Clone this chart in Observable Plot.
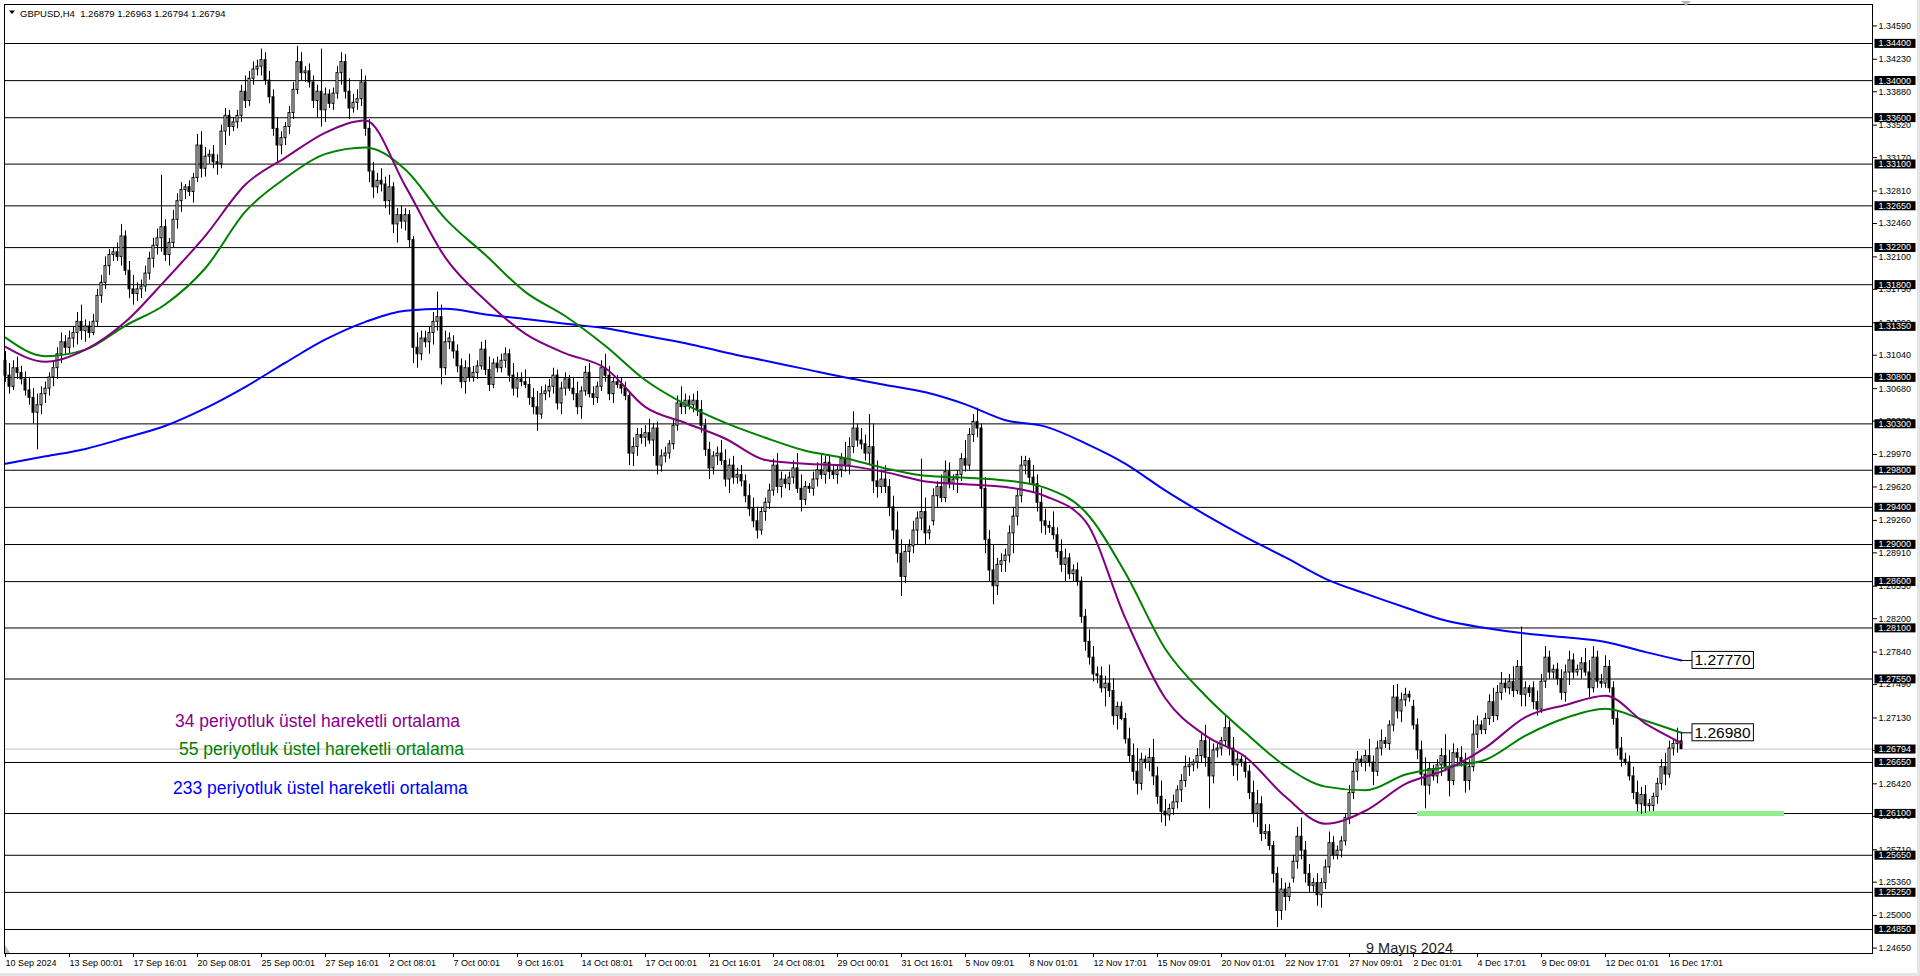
<!DOCTYPE html>
<html>
<head>
<meta charset="utf-8">
<script src="https://cdn.jsdelivr.net/npm/d3@7"></script>
<script src="https://cdn.jsdelivr.net/npm/@observablehq/plot@0.6"></script>
<style>
html,body{margin:0;padding:0;background:#fff;overflow:hidden;}
#wrap{position:relative;width:1920px;height:976px;overflow:hidden;background:#fff;}
#wrap svg{position:absolute;left:0;top:0;}
</style>
</head>
<body>
<div id="wrap"></div>
<script>
// ---------------- DATA ----------------
const opens = [
1.3098,1.3082,1.3070,1.3090,
1.3085,1.3078,1.3066,1.3058,1.3042,1.3050,
1.3062,1.3068,1.3080,1.3090,1.3105,1.3118,
1.3112,1.3122,1.3128,1.3140,1.3130,1.3135,
1.3128,1.3140,1.3168,1.3182,1.3200,1.3212,
1.3215,1.3210,1.3232,1.3195,1.3175,1.3170,
1.3175,1.3178,1.3192,1.3208,1.3222,1.3230,
1.3242,1.3212,1.3225,1.3250,1.3270,1.3282,
1.3285,1.3280,1.3295,1.3330,1.3305,1.3318,
1.3320,1.3312,1.3310,1.3345,1.3362,1.3350,
1.3355,1.3362,1.3388,1.3378,1.3402,1.3412,
1.3415,1.3422,1.3400,1.3382,1.3348,1.3330,
1.3338,1.3350,1.3365,1.3390,1.3420,1.3408,
1.3410,1.3398,1.3378,1.3388,1.3368,1.3385,
1.3375,1.3386,1.3408,1.3420,1.3388,1.3370,
1.3376,1.3380,1.3398,1.3348,1.3302,1.3285,
1.3292,1.3288,1.3270,1.3285,1.3245,1.3255,
1.3248,1.3255,1.3228,1.3112,1.3105,1.3122,
1.3118,1.3128,1.3140,1.3145,1.3090,1.3118,
1.3118,1.3108,1.3092,1.3075,1.3090,1.3080,
1.3085,1.3092,1.3110,1.3088,1.3072,1.3095,
1.3090,1.3098,1.3105,1.3082,1.3068,1.3078,
1.3075,1.3072,1.3058,1.3048,1.3040,1.3062,
1.3065,1.3070,1.3082,1.3052,1.3068,1.3078,
1.3068,1.3062,1.3048,1.3065,1.3085,1.3062,
1.3058,1.3070,1.3090,1.3082,1.3062,1.3075,
1.3072,1.3068,1.3060,1.2998,1.3005,1.3018,
1.3015,1.3020,1.3012,1.3025,1.2985,1.2995,
1.2998,1.3008,1.3028,1.3052,1.3048,1.3055,
1.3050,1.3055,1.3045,1.3028,1.3002,1.2982,
1.2995,1.2998,1.2990,1.2970,1.2985,1.2972,
1.2975,1.2968,1.2952,1.2938,1.2925,1.2915,
1.2935,1.2945,1.2958,1.2985,1.2962,1.2970,
1.2965,1.2972,1.2982,1.2960,1.2948,1.2962,
1.2960,1.2970,1.2980,1.2975,1.2988,1.2978,
1.2975,1.2980,1.2992,1.2985,1.3005,1.3025,
1.3012,1.3008,1.2998,1.3005,1.2968,1.2962,
1.2970,1.2962,1.2940,1.2915,1.2890,1.2865,
1.2892,1.2898,1.2915,1.2928,1.2935,1.2912,
1.2925,1.2952,1.2962,1.2950,1.2978,1.2965,
1.2970,1.2975,1.2992,1.2985,1.3018,1.3032,
1.3025,1.2960,1.2905,1.2872,1.2855,1.2878,
1.2882,1.2888,1.2912,1.2930,1.2952,1.2985,
1.2990,1.2972,1.2965,1.2945,1.2925,1.2920,
1.2918,1.2910,1.2892,1.2878,1.2885,1.2868,
1.2872,1.2860,1.2822,1.2795,1.2778,1.2760,
1.2758,1.2745,1.2750,1.2742,1.2715,1.2725,
1.2712,1.2690,1.2672,1.2655,1.2642,1.2668,
1.2665,1.2670,1.2650,1.2628,1.2612,1.2608,
1.2615,1.2622,1.2635,1.2645,1.2660,1.2662,
1.2665,1.2672,1.2688,1.2670,1.2650,1.2678,
1.2680,1.2688,1.2702,1.2680,1.2662,1.2668,
1.2665,1.2655,1.2632,1.2610,1.2620,1.2588,
1.2590,1.2575,1.2545,1.2505,1.2528,1.2520,
1.2540,1.2558,1.2585,1.2570,1.2545,1.2532,
1.2535,1.2522,1.2535,1.2552,1.2578,1.2565,
1.2570,1.2580,1.2605,1.2632,1.2655,1.2668,
1.2665,1.2672,1.2665,1.2655,1.2680,1.2688,
1.2685,1.2705,1.2735,1.2720,1.2732,1.2738,
1.2725,1.2705,1.2678,1.2652,1.2640,1.2658,
1.2650,1.2662,1.2672,1.2660,1.2645,1.2675,
1.2670,1.2665,1.2645,1.2660,1.2695,1.2705,
1.2700,1.2712,1.2730,1.2715,1.2740,1.2750,
1.2745,1.2752,1.2742,1.2768,1.2738,1.2745,
1.2745,1.2730,1.2722,1.2752,1.2778,1.2762,
1.2765,1.2755,1.2740,1.2762,1.2775,1.2762,
1.2765,1.2772,1.2762,1.2745,1.2778,1.2752,
1.2750,1.2768,1.2745,1.2712,1.2680,1.2668,
1.2665,1.2650,1.2632,1.2620,1.2630,1.2618,
1.2618,1.2628,1.2642,1.2660,1.2652,1.2680,
1.2685,1.26879];

const highs = [
1.3108,1.3095,1.3098,1.3102,
1.3092,1.3086,1.3080,1.3068,1.3062,1.3070,
1.3075,1.3085,1.3098,1.3112,1.3128,1.3125,
1.3130,1.3135,1.3150,1.3158,1.3142,1.3140,
1.3148,1.3175,1.3190,1.3210,1.3218,1.3220,
1.3225,1.3245,1.3238,1.3205,1.3190,1.3182,
1.3185,1.3200,1.3215,1.3230,1.3240,1.3298,
1.3250,1.3230,1.3260,1.3278,1.3290,1.3288,
1.3292,1.3300,1.3342,1.3345,1.3328,1.3325,
1.3330,1.3320,1.3352,1.3370,1.3368,1.3360,
1.3368,1.3395,1.3405,1.3410,1.3420,1.3422,
1.3434,1.3430,1.3410,1.3390,1.3360,1.3345,
1.3355,1.3372,1.3398,1.3437,1.3430,1.3415,
1.3418,1.3405,1.3395,1.3434,1.3392,1.3390,
1.3392,1.3415,1.3430,1.3428,1.3402,1.3385,
1.3390,1.3412,1.3405,1.3358,1.3312,1.3300,
1.3305,1.3296,1.3298,1.3290,1.3262,1.3265,
1.3262,1.3260,1.3232,1.3128,1.3130,1.3130,
1.3135,1.3150,1.3172,1.3158,1.3130,1.3128,
1.3125,1.3115,1.3100,1.3098,1.3105,1.3092,
1.3098,1.3118,1.3120,1.3102,1.3100,1.3102,
1.3105,1.3112,1.3110,1.3095,1.3085,1.3085,
1.3088,1.3080,1.3068,1.3065,1.3070,1.3072,
1.3078,1.3090,1.3088,1.3075,1.3085,1.3082,
1.3080,1.3075,1.3070,1.3092,1.3095,1.3070,
1.3075,1.3098,1.3105,1.3092,1.3080,1.3082,
1.3080,1.3075,1.3065,1.3015,1.3025,1.3025,
1.3028,1.3035,1.3030,1.3032,1.3002,1.3005,
1.3012,1.3035,1.3060,1.3070,1.3062,1.3060,
1.3062,1.3065,1.3055,1.3035,1.3010,1.3000,
1.3005,1.3012,1.3002,1.2992,1.2995,1.2982,
1.2985,1.2975,1.2965,1.2950,1.2940,1.2940,
1.2950,1.2965,1.2992,1.2998,1.2978,1.2975,
1.2978,1.2990,1.2998,1.2975,1.2968,1.2966,
1.2978,1.2988,1.2998,1.2995,1.2996,1.2985,
1.2985,1.2998,1.3010,1.3015,1.3043,1.3030,
1.3025,1.3018,1.3040,1.3030,1.2990,1.2980,
1.2985,1.2970,1.2952,1.2935,1.2905,1.2900,
1.2905,1.2925,1.2935,1.2992,1.2950,1.2920,
1.2960,1.2968,1.2975,1.2990,1.2988,1.2975,
1.2980,1.2998,1.3012,1.3025,1.3040,1.3047,
1.3030,1.2972,1.2915,1.2900,1.2885,1.2890,
1.2895,1.2920,1.2940,1.2960,1.2995,1.2995,
1.2993,1.2985,1.2975,1.2960,1.2938,1.2925,
1.2935,1.2918,1.2905,1.2895,1.2890,1.2878,
1.2880,1.2865,1.2830,1.2808,1.2790,1.2768,
1.2768,1.2758,1.2770,1.2755,1.2730,1.2730,
1.2718,1.2702,1.2685,1.2680,1.2675,1.2672,
1.2680,1.2690,1.2660,1.2645,1.2625,1.2620,
1.2630,1.2640,1.2652,1.2672,1.2670,1.2668,
1.2680,1.2695,1.2705,1.2690,1.2685,1.2685,
1.2692,1.2715,1.2710,1.2692,1.2675,1.2672,
1.2672,1.2662,1.2645,1.2635,1.2628,1.2598,
1.2598,1.2580,1.2552,1.2540,1.2535,1.2535,
1.2565,1.2595,1.2605,1.2580,1.2555,1.2540,
1.2545,1.2540,1.2560,1.2590,1.2585,1.2575,
1.2585,1.2610,1.2640,1.2665,1.2677,1.2672,
1.2678,1.2690,1.2672,1.2688,1.2700,1.2692,
1.2710,1.2748,1.2749,1.2740,1.2745,1.2742,
1.2732,1.2712,1.2688,1.2670,1.2665,1.2662,
1.2668,1.2680,1.2695,1.2678,1.2685,1.2680,
1.2682,1.2675,1.2668,1.2710,1.2715,1.2710,
1.2718,1.2738,1.2745,1.2748,1.2762,1.2755,
1.2760,1.2768,1.2775,1.2811,1.2752,1.2748,
1.2752,1.2742,1.2760,1.2790,1.2785,1.2770,
1.2772,1.2765,1.2770,1.2785,1.2782,1.2770,
1.2778,1.2788,1.2775,1.2790,1.2785,1.2760,
1.2780,1.2775,1.2752,1.2720,1.2692,1.2675,
1.2672,1.2660,1.2645,1.2638,1.2640,1.2625,
1.2632,1.2648,1.2668,1.2675,1.2688,1.2690,
1.2702,1.26963];

const lows = [
1.3075,1.3062,1.3066,1.3078,
1.3072,1.3060,1.3050,1.3030,1.3002,1.3040,
1.3052,1.3060,1.3070,1.3078,1.3095,1.3105,
1.3105,1.3112,1.3115,1.3120,1.3118,1.3122,
1.3125,1.3135,1.3160,1.3175,1.3190,1.3205,
1.3205,1.3200,1.3190,1.3165,1.3158,1.3162,
1.3165,1.3172,1.3185,1.3198,1.3212,1.3215,
1.3205,1.3200,1.3220,1.3240,1.3258,1.3272,
1.3275,1.3268,1.3290,1.3295,1.3296,1.3310,
1.3305,1.3298,1.3305,1.3330,1.3340,1.3345,
1.3348,1.3355,1.3370,1.3372,1.3395,1.3405,
1.3405,1.3395,1.3375,1.3340,1.3311,1.3320,
1.3330,1.3342,1.3358,1.3385,1.3400,1.3398,
1.3392,1.3370,1.3360,1.3350,1.3355,1.3370,
1.3368,1.3380,1.3395,1.3380,1.3358,1.3365,
1.3368,1.3372,1.3340,1.3290,1.3273,1.3278,
1.3280,1.3262,1.3255,1.3235,1.3225,1.3240,
1.3238,1.3220,1.3095,1.3090,1.3098,1.3112,
1.3105,1.3115,1.3130,1.3072,1.3082,1.3110,
1.3100,1.3085,1.3068,1.3062,1.3075,1.3075,
1.3078,1.3088,1.3082,1.3065,1.3068,1.3085,
1.3085,1.3090,1.3075,1.3060,1.3058,1.3070,
1.3068,1.3050,1.3040,1.3022,1.3035,1.3055,
1.3058,1.3062,1.3045,1.3040,1.3060,1.3065,
1.3055,1.3040,1.3035,1.3060,1.3058,1.3050,
1.3052,1.3065,1.3075,1.3055,1.3052,1.3068,
1.3062,1.3055,1.2985,1.2984,1.2995,1.3008,
1.3005,1.3008,1.2995,1.2975,1.2978,1.2988,
1.2992,1.3002,1.3022,1.3040,1.3040,1.3045,
1.3042,1.3038,1.3020,1.2995,1.2970,1.2975,
1.2985,1.2985,1.2962,1.2955,1.2965,1.2965,
1.2962,1.2945,1.2930,1.2918,1.2906,1.2910,
1.2925,1.2938,1.2952,1.2955,1.2950,1.2960,
1.2958,1.2965,1.2955,1.2935,1.2942,1.2955,
1.2952,1.2962,1.2970,1.2965,1.2970,1.2970,
1.2965,1.2972,1.2978,1.2975,1.2998,1.3005,
1.3002,1.2990,1.2985,1.2955,1.2950,1.2955,
1.2955,1.2930,1.2905,1.2880,1.2844,1.2858,
1.2880,1.2890,1.2900,1.2915,1.2900,1.2905,
1.2920,1.2940,1.2945,1.2945,1.2960,1.2958,
1.2955,1.2968,1.2978,1.2980,1.3010,1.3015,
1.2940,1.2890,1.2860,1.2835,1.2845,1.2870,
1.2870,1.2880,1.2890,1.2920,1.2945,1.2975,
1.2965,1.2955,1.2935,1.2912,1.2910,1.2912,
1.2905,1.2885,1.2870,1.2860,1.2862,1.2860,
1.2855,1.2815,1.2785,1.2770,1.2752,1.2750,
1.2740,1.2725,1.2735,1.2705,1.2700,1.2710,
1.2685,1.2665,1.2645,1.2630,1.2635,1.2658,
1.2655,1.2640,1.2620,1.2600,1.2596,1.2602,
1.2608,1.2615,1.2622,1.2638,1.2650,1.2655,
1.2658,1.2665,1.2660,1.2615,1.2642,1.2670,
1.2672,1.2682,1.2672,1.2650,1.2645,1.2660,
1.2648,1.2625,1.2600,1.2595,1.2580,1.2582,
1.2570,1.2535,1.2487,1.2495,1.2505,1.2515,
1.2535,1.2550,1.2560,1.2535,1.2525,1.2525,
1.2510,1.2508,1.2528,1.2545,1.2560,1.2560,
1.2562,1.2575,1.2598,1.2625,1.2645,1.2660,
1.2655,1.2660,1.2640,1.2650,1.2672,1.2680,
1.2678,1.2698,1.2712,1.2708,1.2725,1.2730,
1.2700,1.2668,1.2640,1.2615,1.2630,1.2645,
1.2642,1.2650,1.2655,1.2628,1.2640,1.2665,
1.2660,1.2632,1.2635,1.2655,1.2680,1.2695,
1.2695,1.2705,1.2708,1.2710,1.2732,1.2740,
1.2738,1.2735,1.2738,1.2725,1.2725,1.2735,
1.2722,1.2715,1.2718,1.2745,1.2755,1.2755,
1.2748,1.2732,1.2730,1.2748,1.2755,1.2758,
1.2755,1.2758,1.2735,1.2740,1.2745,1.2745,
1.2745,1.2740,1.2705,1.2672,1.2660,1.2662,
1.2645,1.2625,1.2612,1.2609,1.2610,1.2612,
1.2612,1.2620,1.2635,1.2640,1.2648,1.2672,
1.2675,1.26794];

const closes = [
1.3082,1.3070,1.3090,1.3085,
1.3078,1.3066,1.3058,1.3042,1.3050,1.3062,
1.3068,1.3080,1.3090,1.3105,1.3118,1.3112,
1.3122,1.3128,1.3140,1.3130,1.3135,1.3128,
1.3140,1.3168,1.3182,1.3200,1.3212,1.3215,
1.3210,1.3232,1.3195,1.3175,1.3170,1.3175,
1.3178,1.3192,1.3208,1.3222,1.3230,1.3242,
1.3212,1.3225,1.3250,1.3270,1.3282,1.3285,
1.3280,1.3295,1.3330,1.3305,1.3318,1.3320,
1.3312,1.3310,1.3345,1.3362,1.3350,1.3355,
1.3362,1.3388,1.3378,1.3402,1.3412,1.3415,
1.3422,1.3400,1.3382,1.3348,1.3330,1.3338,
1.3350,1.3365,1.3390,1.3420,1.3408,1.3410,
1.3398,1.3378,1.3388,1.3368,1.3385,1.3375,
1.3386,1.3408,1.3420,1.3388,1.3370,1.3376,
1.3380,1.3398,1.3348,1.3302,1.3285,1.3292,
1.3288,1.3270,1.3285,1.3245,1.3255,1.3248,
1.3255,1.3228,1.3112,1.3105,1.3122,1.3118,
1.3128,1.3140,1.3145,1.3090,1.3118,1.3122,
1.3108,1.3092,1.3075,1.3090,1.3080,1.3085,
1.3092,1.3110,1.3088,1.3072,1.3095,1.3090,
1.3098,1.3105,1.3082,1.3068,1.3078,1.3075,
1.3072,1.3058,1.3048,1.3040,1.3062,1.3065,
1.3070,1.3082,1.3052,1.3068,1.3078,1.3068,
1.3062,1.3048,1.3065,1.3085,1.3062,1.3058,
1.3070,1.3090,1.3082,1.3062,1.3075,1.3072,
1.3068,1.3060,1.2998,1.3005,1.3018,1.3015,
1.3020,1.3012,1.3025,1.2985,1.2995,1.2998,
1.3008,1.3028,1.3052,1.3048,1.3055,1.3050,
1.3055,1.3045,1.3028,1.3002,1.2982,1.2995,
1.2998,1.2990,1.2970,1.2985,1.2972,1.2975,
1.2968,1.2952,1.2938,1.2925,1.2915,1.2935,
1.2945,1.2958,1.2985,1.2962,1.2970,1.2965,
1.2972,1.2982,1.2960,1.2948,1.2962,1.2960,
1.2970,1.2980,1.2975,1.2988,1.2978,1.2975,
1.2980,1.2992,1.2985,1.3005,1.3025,1.3012,
1.3008,1.2998,1.3005,1.2968,1.2962,1.2970,
1.2962,1.2940,1.2915,1.2890,1.2865,1.2892,
1.2898,1.2915,1.2928,1.2935,1.2912,1.2915,
1.2952,1.2962,1.2950,1.2978,1.2965,1.2970,
1.2975,1.2992,1.2985,1.3018,1.3032,1.3025,
1.2960,1.2905,1.2872,1.2855,1.2878,1.2882,
1.2888,1.2912,1.2930,1.2952,1.2985,1.2990,
1.2972,1.2965,1.2945,1.2925,1.2920,1.2918,
1.2910,1.2892,1.2878,1.2885,1.2868,1.2872,
1.2860,1.2822,1.2795,1.2778,1.2760,1.2758,
1.2745,1.2750,1.2742,1.2715,1.2725,1.2712,
1.2690,1.2672,1.2655,1.2642,1.2668,1.2665,
1.2670,1.2650,1.2628,1.2612,1.2608,1.2615,
1.2622,1.2635,1.2645,1.2660,1.2662,1.2665,
1.2672,1.2688,1.2670,1.2650,1.2678,1.2680,
1.2688,1.2702,1.2680,1.2662,1.2668,1.2665,
1.2655,1.2632,1.2610,1.2620,1.2588,1.2590,
1.2575,1.2545,1.2505,1.2528,1.2520,1.2530,
1.2558,1.2585,1.2570,1.2545,1.2532,1.2535,
1.2522,1.2535,1.2552,1.2578,1.2565,1.2570,
1.2580,1.2605,1.2632,1.2655,1.2668,1.2665,
1.2672,1.2665,1.2655,1.2680,1.2688,1.2685,
1.2705,1.2735,1.2720,1.2732,1.2738,1.2735,
1.2705,1.2678,1.2652,1.2640,1.2658,1.2650,
1.2662,1.2672,1.2660,1.2645,1.2675,1.2670,
1.2665,1.2645,1.2660,1.2695,1.2705,1.2700,
1.2712,1.2730,1.2715,1.2740,1.2750,1.2745,
1.2752,1.2742,1.2768,1.2738,1.2745,1.2740,
1.2730,1.2722,1.2752,1.2778,1.2762,1.2765,
1.2755,1.2740,1.2762,1.2775,1.2762,1.2765,
1.2772,1.2762,1.2745,1.2778,1.2752,1.2750,
1.2768,1.2745,1.2712,1.2680,1.2668,1.2665,
1.2650,1.2632,1.2620,1.2630,1.2618,1.2620,
1.2628,1.2642,1.2660,1.2652,1.2680,1.2685,
1.2688,1.26794];

// moving averages read at sampled bars
const emaBars = [0,10,20,30,40,50,60,70,80,90,100,110,120,130,140,150,160,170,180,190,200,210,220,230,240,250,260,270,280,290,300,310,320,330,340,350,360,370,380,390,400,410,419];
const ema34 = [1.3113,1.3097,1.3110,1.3140,1.3185,1.3233,1.3288,1.3317,1.3344,1.3357,1.3286,1.3209,1.3163,1.3127,1.3106,1.3090,1.3048,1.3031,1.3014,1.2991,1.2987,1.2985,1.2978,1.2968,1.2965,1.2962,1.2952,1.2925,1.2820,1.2734,1.2694,1.2671,1.2628,1.2599,1.2613,1.2642,1.2657,1.2681,1.2714,1.2727,1.2737,1.2707,1.2686];
const ema55 = [1.3123,1.3103,1.3110,1.3136,1.3159,1.3198,1.3259,1.3295,1.3321,1.3328,1.3304,1.3251,1.3212,1.3172,1.3146,1.3114,1.3077,1.3051,1.3031,1.3015,1.3001,1.2993,1.2982,1.2974,1.2972,1.2969,1.2961,1.2935,1.2869,1.2787,1.2737,1.2697,1.2661,1.2639,1.2635,1.2652,1.2660,1.2668,1.2694,1.2713,1.2723,1.2710,1.2697];
const ema233 = [1.2987,1.2995,1.3003,1.3015,1.3028,1.3047,1.3070,1.3096,1.3121,1.3140,1.3152,1.3154,1.3148,1.3143,1.3138,1.3133,1.3125,1.3117,1.3107,1.3098,1.3089,1.3080,1.3072,1.3064,1.3051,1.3034,1.3027,1.3009,1.2987,1.2958,1.2932,1.2908,1.2886,1.2863,1.2847,1.2832,1.2818,1.2810,1.2804,1.2800,1.2795,1.2784,1.2775];

// time axis
const timeTickBars = [0,16,32,48,64,80,96,112,128,144,160,176,192,208,224,240,256,272,288,304,320,336,352,368,384,400,416];
const timeLabels = ["10 Sep 2024","13 Sep 00:01","17 Sep 16:01","20 Sep 08:01","25 Sep 00:01","27 Sep 16:01","2 Oct 08:01","7 Oct 00:01","9 Oct 16:01","14 Oct 08:01","17 Oct 00:01","21 Oct 16:01","24 Oct 08:01","29 Oct 00:01","31 Oct 16:01","5 Nov 09:01","8 Nov 01:01","12 Nov 17:01","15 Nov 09:01","20 Nov 01:01","22 Nov 17:01","27 Nov 09:01","2 Dec 01:01","4 Dec 17:01","9 Dec 09:01","12 Dec 01:01","16 Dec 17:01"];

// price axis
const priceTicks = [1.3459,1.3423,1.3388,1.3352,1.3317,1.3281,1.3246,1.3210,1.3175,1.3139,1.3104,1.3068,1.3033,1.2997,1.2962,1.2926,1.2891,1.2855,1.2820,1.2784,1.2749,1.2713,1.2678,1.2642,1.2607,1.2571,1.2536,1.2500,1.2465];
const levels = [1.3440,1.3400,1.3360,1.3310,1.3265,1.3220,1.3180,1.3135,1.3080,1.3030,1.2980,1.2940,1.2900,1.2860,1.2810,1.2755,1.2665,1.2610,1.2565,1.2525,1.2485];
const currentPrice = [1.26794];
const supportPrice = [1.2610];
const supportBars = [353, 444.75];
const endLabelTexts = ["1.27770", "1.26980"];

const legendTexts = ["34 periyotluk üstel hareketli ortalama","55 periyotluk üstel hareketli ortalama","233 periyotluk üstel hareketli ortalama"];
const headerText = "GBPUSD,H4  1.26879 1.26963 1.26794 1.26794";
const noteText = "9 Mayıs 2024";

// ---------------- BUILD ----------------
const FONT = "'Liberation Sans', Arial, sans-serif";
const candles = closes.map((c, i) => ({i, o: opens[i], h: highs[i], l: lows[i], c}));
const toSeries = vals => emaBars.map((b, k) => ({i: b, v: vals[k]}));
const last = emaBars.length - 1;
const endLabels = [
  {i: emaBars[last], v: ema233[last], text: endLabelTexts[0]},
  {i: emaBars[last], v: ema55[last], text: endLabelTexts[1]}
];
const support = [{p: supportPrice[0], a: supportBars[0], b: supportBars[1]}];

const plot = Plot.plot({
  width: 1920,
  height: 976,
  marginTop: 4, marginRight: 48, marginBottom: 23, marginLeft: 4,
  x: {type: "linear", domain: [-0.25, 466.75]},
  y: {type: "linear", domain: [1.245913, 1.348204]},
  style: {background: "transparent", color: "black", fontFamily: FONT, fontSize: "9px", overflow: "visible"},
  marks: [
    Plot.ruleY(levels, {stroke: "black", strokeWidth: 1}),
    Plot.ruleY(currentPrice, {stroke: "#c0c0c0", strokeWidth: 1}),
    Plot.ruleY(support, {y: "p", x1: "a", x2: "b", stroke: "#90ee90", strokeWidth: 5}),
    Plot.ruleX(candles, {x: "i", y1: "l", y2: "h", stroke: "black", strokeWidth: 1}),
    Plot.rect(candles, {filter: d => d.c >= d.o, x1: d => d.i - 0.25, x2: d => d.i + 0.25, y1: "o", y2: "c", fill: "white", stroke: "black", strokeWidth: 1}),
    Plot.rect(candles, {filter: d => d.c < d.o, x1: d => d.i - 0.25, x2: d => d.i + 0.25, y1: "o", y2: "c", fill: "black", stroke: "black", strokeWidth: 1}),
    Plot.line(toSeries(ema233), {x: "i", y: "v", stroke: "#0000ff", strokeWidth: 2, curve: "monotone-x"}),
    Plot.line(toSeries(ema55), {x: "i", y: "v", stroke: "#008000", strokeWidth: 2, curve: "monotone-x"}),
    Plot.line(toSeries(ema34), {x: "i", y: "v", stroke: "#800080", strokeWidth: 2, curve: "monotone-x"}),
    Plot.ruleY(endLabels, {y: "v", x1: "i", x2: d => d.i + 2.75, stroke: "black", strokeWidth: 1}),
    Plot.text(endLabels, {x: "i", y: "v", text: "text", dx: 13, textAnchor: "start", fontSize: 15.5, fill: "black", fontFamily: FONT}),
    Plot.axisX({ticks: timeTickBars, tickFormat: d => timeLabels[timeTickBars.indexOf(d)], tickSize: 4, tickPadding: 2, textAnchor: "start", label: null, fontSize: 9}),
    Plot.axisY({anchor: "right", ticks: priceTicks, tickFormat: d => d.toFixed(5), tickSize: 4, tickPadding: 2, label: null, fontSize: 9}),
    Plot.frame({stroke: "black"}),
    Plot.text([...levels, ...currentPrice], {y: d => d, text: d => d.toFixed(5), frameAnchor: "right", dx: 6, textAnchor: "start", fill: "white", fontSize: 9})
  ]
});

const wrap = document.getElementById("wrap");
wrap.appendChild(plot);

// background boxes behind price-level labels and end labels
const levelStrings = new Set([...levels, ...currentPrice].map(d => d.toFixed(5)));
const endStrings = new Set(endLabelTexts);
const NS = "http://www.w3.org/2000/svg";
plot.querySelectorAll("text").forEach(t => {
  const s = t.textContent;
  const isLevel = levelStrings.has(s) && (t.closest("g[fill]") || {}).getAttribute && t.closest("g[fill]").getAttribute("fill") === "white";
  const isEnd = endStrings.has(s);
  if (!isLevel && !isEnd) return;
  const b = t.getBBox();
  const cy = b.y + b.height / 2;
  const r = document.createElementNS(NS, "rect");
  if (isLevel) {
    r.setAttribute("x", b.x - 4); r.setAttribute("width", 41);
    r.setAttribute("y", cy - 4.5); r.setAttribute("height", 9);
    r.setAttribute("fill", "black");
  } else {
    r.setAttribute("x", b.x - 2.5); r.setAttribute("width", b.width + 5);
    r.setAttribute("y", cy - 8.5); r.setAttribute("height", 17);
    r.setAttribute("fill", "white"); r.setAttribute("stroke", "black");
  }
  const tr = t.getAttribute("transform");
  if (tr) r.setAttribute("transform", tr);
  t.parentNode.insertBefore(r, t);
});

// overlay: header, legend, note, window decorations
const ov = d3.select(wrap).append("svg").attr("width", 1920).attr("height", 976)
  .style("font-family", FONT).style("pointer-events", "none");
ov.append("rect").attr("x", 1917).attr("y", 0).attr("width", 3).attr("height", 976).attr("fill", "#e4e4e4");
ov.append("rect").attr("x", 0).attr("y", 973).attr("width", 1920).attr("height", 3).attr("fill", "#e4e4e4");
ov.append("path").attr("d", "M9,10.5 L15,10.5 L12,14 Z").attr("fill", "black");
ov.append("text").attr("x", 20).attr("y", 16.5).attr("font-size", 9.5).style("white-space", "pre").attr("fill", "black").text(headerText);
ov.append("path").attr("d", "M1681,1 L1691,1 L1686,6 Z").attr("fill", "#b8b8b8");
ov.append("path").attr("d", "M5,945 L5,953 L10,953 Z").attr("fill", "#b8b8b8");
const legendColors = ["#8b008b", "#008000", "#0000ff"];
const legendPos = [[175, 727], [179, 755], [173, 794]];
legendTexts.forEach((s, k) => {
  ov.append("text").attr("x", legendPos[k][0]).attr("y", legendPos[k][1]).attr("font-size", 17.5).attr("fill", legendColors[k]).text(s);
});
ov.append("text").attr("x", 1366).attr("y", 952.5).attr("font-size", 14.5).attr("fill", "#222").text(noteText);
</script>
</body>
</html>
